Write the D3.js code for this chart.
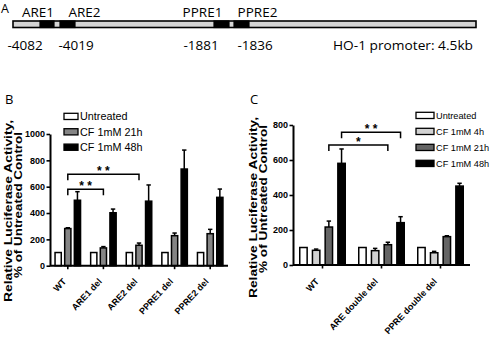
<!DOCTYPE html>
<html><head><meta charset="utf-8">
<script src="https://cdn.jsdelivr.net/npm/d3@7"></script>
<style>
html,body{margin:0;padding:0;background:#fff;}
svg{display:block;}
.ar{font-family:"Liberation Sans",Arial,sans-serif;}
.os{font-family:"Open Sans","Liberation Sans",sans-serif;}
</style></head>
<body>
<svg id="c" width="491" height="339"></svg>
<script>
// ---------- Panel A data ----------
const elements = ["ARE1","ARE2","PPRE1","PPRE2"];
const elementCoords = [-4082,-4019,-1881,-1836];
const promoterLabel = "HO-1 promoter: 4.5kb";
const promoterDomain = [-4500, 0];

// ---------- Panel B data ----------
const categoriesB = ["WT","ARE1 del","ARE2 del","PPRE1 del","PPRE2 del"];
const seriesB = ["Untreated","CF 1mM 21h","CF 1mM 48h"];
const untreatedB = [100,100,100,100,100];
const cf21hB = [282,135,155,228,243];
const cf48hB = [497,402,490,734,519];
const errUntreatedB = [0,0,0,0,0];
const errCf21hB = [6,10,17,20,33];
const errCf48hB = [65,28,123,144,63];
const ticksB = [0,200,400,600,800,1000];
const sigB = [
  {from:"WT", to:"ARE2 del", level:694, label:"* *"},
  {from:"WT", to:"ARE1 del", level:580, label:"* *"}
];

// ---------- Panel C data ----------
const categoriesC = ["WT","ARE double del","PPRE double del"];
const seriesC = ["Untreated","CF 1mM 4h","CF 1mM 21h","CF 1mM 48h"];
const untreatedC = [100,100,100];
const cf4hC = [84,82,70];
const cf21hC = [217,116,162];
const cf48hC = [581,242,451];
const errUntreatedC = [0,0,0];
const errCf4hC = [7,13,8];
const errCf21hC = [34,14,5];
const errCf48hC = [82,34,16];
const ticksC = [0,200,400,600,800];
const sigC = [
  {from:"WT", to:"ARE double del", series:"CF 1mM 48h", level:758, label:"* *"},
  {from:"WT", to:"ARE double del", series:"CF 1mM 21h", level:686, label:"*"}
];

const yLabel1 = "Relative Luciferase Activity,";
const yLabel2 = "% of Untreated Control";

const svg = d3.select("#c");

// ================= Panel A =================
(function(){
  const g = svg.append("g");
  g.append("text").attr("class","os").attr("x",1).attr("y",12.5).attr("font-size",12.5).text("A");
  const x = d3.scaleLinear()
    .domain([promoterDomain[0], ...elementCoords, promoterDomain[1]])
    .range([13, 47, 67.5, 221.5, 241.5, 476]);
  g.append("rect").attr("x",x(promoterDomain[0])).attr("y",21)
    .attr("width",x(promoterDomain[1])-x(promoterDomain[0])).attr("height",6.5)
    .attr("fill","#d4d4d4").attr("stroke","#000").attr("stroke-width",1.6);
  const nameOff = [-9,17,-19,16];
  const numOff = [-22,8.5,-20.5,13.5];
  const boxW = [14,15,15,15];
  elements.forEach((e,i)=>{
    const cx = x(elementCoords[i]);
    g.append("rect").attr("x",cx-boxW[i]/2).attr("y",21).attr("width",boxW[i]).attr("height",6.5)
      .attr("fill","#000").attr("stroke","#000").attr("stroke-width",1.2);
    g.append("text").attr("class","os").attr("x",cx+nameOff[i]).attr("y",17.3)
      .attr("text-anchor","middle").attr("font-size",13.5).text(e);
    g.append("text").attr("class","os").attr("x",cx+numOff[i]).attr("y",50)
      .attr("text-anchor","middle").attr("font-size",13.5).text(String(elementCoords[i]));
  });
  g.append("text").attr("class","os").attr("x",333).attr("y",50)
    .attr("font-size",13.5).attr("textLength",140).attr("lengthAdjust","spacingAndGlyphs").text(promoterLabel);
})();

// ============== bar panel helper ==============
function barPanel(opt){
  const g = svg.append("g");
  const y = d3.scaleLinear().domain(opt.yDomain).range([opt.y0, opt.y1]);
  const x0 = d3.scaleBand().domain(opt.categories).range([opt.xL, opt.xR]).padding(0);
  const bw = x0.bandwidth();
  const x1 = d3.scaleBand().domain(opt.series).range([opt.inner, bw-opt.inner]).paddingInner(opt.pin).paddingOuter(0);

  g.append("text").attr("class","os").attr("x",opt.letterX).attr("y",104).attr("font-size",13).text(opt.letter);

  opt.categories.forEach((c,ci)=>{
    opt.series.forEach((s,si)=>{
      const v = opt.values[si][ci], e = opt.errors[si][ci];
      const bx = x0(c)+x1(s);
      if(e>0){
        const cx = bx + x1.bandwidth()/2;
        g.append("line").attr("x1",cx).attr("x2",cx).attr("y1",y(v)).attr("y2",y(v+e))
          .attr("stroke","#000").attr("stroke-width",1.5);
        g.append("line").attr("x1",cx-2.2).attr("x2",cx+2.2).attr("y1",y(v+e)).attr("y2",y(v+e))
          .attr("stroke","#000").attr("stroke-width",1.5);
      }
      g.append("rect").attr("x",bx+0.75).attr("y",y(v)).attr("width",x1.bandwidth()-1.5)
        .attr("height",y(0)-y(v)).attr("fill",opt.colors[si]).attr("stroke","#000").attr("stroke-width",1.5);
    });
  });

  const ya = g.append("g").attr("transform",`translate(${opt.xL},0)`)
    .call(d3.axisLeft(y).tickValues(opt.ticks).tickSize(3.5).tickSizeOuter(0).tickPadding(1.5).tickFormat(d3.format("d")));
  ya.select(".domain").attr("stroke-width",2);
  ya.selectAll(".tick line").attr("stroke-width",1.6);
  ya.selectAll("text").attr("class","ar").attr("font-size",9).attr("font-weight","bold").attr("fill","#000");
  const xa = g.append("g").attr("transform",`translate(0,${opt.y0})`)
    .call(d3.axisBottom(x0).tickSize(3.5).tickSizeOuter(0).tickFormat(""));
  xa.select(".domain").attr("stroke-width",2).attr("d",`M${opt.xL},0H${opt.xR}`);
  xa.selectAll(".tick line").attr("stroke-width",1.6);
  opt.categories.forEach(c=>{
    const cx = x0(c)+bw/2 + opt.labDx;
    g.append("text").attr("class","ar").attr("font-size",9).attr("font-weight","bold")
      .attr("text-anchor","end").attr("transform",`translate(${cx},282) rotate(-47)`).text(c);
  });

  g.append("text").attr("class","ar").attr("font-size",10.5).attr("font-weight","bold")
    .attr("text-anchor","middle").attr("transform",`translate(${opt.yl1x},${opt.yl1c}) rotate(-90)`)
    .attr("textLength",opt.yl1len).attr("lengthAdjust","spacingAndGlyphs").text(yLabel1);
  g.append("text").attr("class","ar").attr("font-size",10.5).attr("font-weight","bold")
    .attr("text-anchor","middle").attr("transform",`translate(${opt.yl2x},${opt.yl2c}) rotate(-90)`)
    .attr("textLength",opt.yl2len).attr("lengthAdjust","spacingAndGlyphs").text(yLabel2);

  opt.series.forEach((s,si)=>{
    const ly = opt.legY + si*opt.legStep;
    g.append("rect").attr("x",opt.legX).attr("y",ly).attr("width",opt.legW).attr("height",6.2)
      .attr("fill",opt.colors[si]).attr("stroke","#000").attr("stroke-width",1.3);
    g.append("text").attr("class","ar").attr("x",opt.legX+opt.legW+2).attr("y",ly+7)
      .attr("font-size",opt.legFont).text(s);
  });

  opt.sig.forEach(sg=>{
    const sname = sg.series || opt.series[1];
    const xa_ = x0(sg.from)+x1(sname)+x1.bandwidth()/2;
    const xb_ = x0(sg.to)+x1(sname)+x1.bandwidth()/2;
    const yy = y(sg.level);
    g.append("path").attr("d",`M${xa_},${yy+6}V${yy}H${xb_}V${yy+6}`)
      .attr("fill","none").attr("stroke","#000").attr("stroke-width",1.5);
    g.append("text").attr("class","ar").attr("x",(xa_+xb_)/2).attr("y",yy+1)
      .attr("text-anchor","middle").attr("font-size",12).attr("font-weight","bold").text(sg.label);
  });
}

barPanel({
  letter:"B", letterX:5,
  categories:categoriesB, series:seriesB,
  values:[untreatedB,cf21hB,cf48hB], errors:[errUntreatedB,errCf21hB,errCf48hB],
  colors:["#ffffff","#858585","#000000"],
  yDomain:[0,1000], ticks:ticksB, y0:265.7, y1:134,
  xL:50, xR:228, inner:4.3, pin:0.2, labDx:-1,
  yl1x:11.5, yl1c:211, yl1len:182, yl2x:21.5, yl2c:205, yl2len:146,
  legX:64, legY:113.3, legStep:15.4, legW:14, legFont:10.8,
  sig:sigB
});

barPanel({
  letter:"C", letterX:250,
  categories:categoriesC, series:seriesC,
  values:[untreatedC,cf4hC,cf21hC,cf48hC], errors:[errUntreatedC,errCf4hC,errCf21hC,errCf48hC],
  colors:["#ffffff","#d2d2d2","#646464","#000000"],
  yDomain:[0,800], ticks:ticksC, y0:265, y1:125,
  xL:293, xR:470, inner:6, pin:0.3, labDx:-3,
  yl1x:257, yl1c:207.5, yl1len:181, yl2x:266.5, yl2c:199, yl2len:148,
  legX:416, legY:112.3, legStep:16, legW:18, legFont:9.2,
  sig:sigC
});
</script>
</body></html>
